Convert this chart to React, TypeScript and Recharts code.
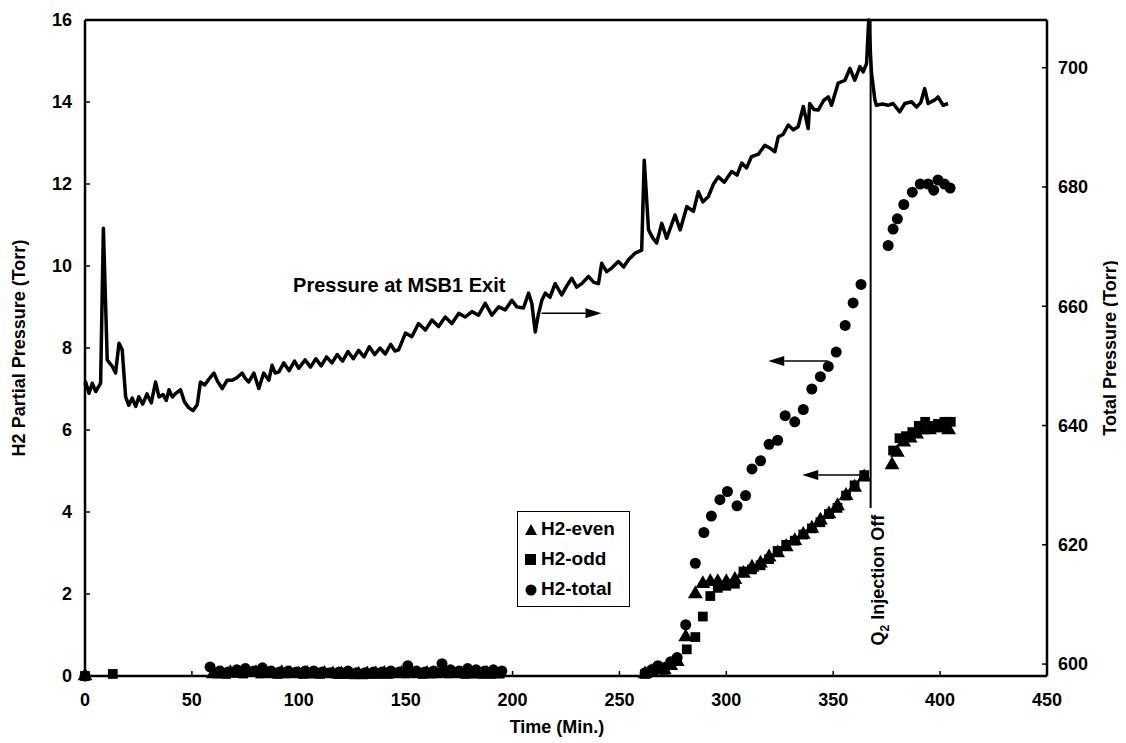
import React from "react";
import {
  ComposedChart,
  Line,
  Scatter,
  XAxis,
  YAxis,
  ZAxis,
  ReferenceLine,
  ReferenceDot,
} from "recharts";

const FONT = "'Liberation Sans', Arial, sans-serif";

const TIME_TICKS = [0, 50, 100, 150, 200, 250, 300, 350, 400, 450];
const H2_TICKS = [0, 2, 4, 6, 8, 10, 12, 14, 16];
const TOTAL_TICKS = [600, 620, 640, 660, 680, 700];

// [time (min), total pressure (Torr)] - right axis
const msb1Pressure: [number, number][] = [
  [0, 646.8], [0.3, 647.3], [1.9, 645.4], [3.4, 647.1], [5, 645.7], [7.3, 647.1],
  [8.6, 673.1], [10.4, 651.0], [12.8, 649.9], [14.3, 648.8], [15.9, 653.8], [17.4, 652.7],
  [19, 644.8], [20.5, 643.4], [22.1, 644.6], [23.7, 643.2], [25.2, 644.8], [27, 643.6],
  [29, 645.3], [31, 643.8], [33, 647.3], [34.6, 644.8], [36.5, 645.2], [38, 644.2],
  [39.3, 646.0], [40.8, 644.8], [42.5, 645.4], [44.7, 646.0], [46.5, 644.0], [48.5, 643.0],
  [50.5, 642.5], [52.5, 643.5], [54, 647.3], [56, 646.8], [58, 647.8], [60.3, 648.8],
  [62, 647.4], [64.2, 646.2], [66.5, 647.6], [68.8, 647.6], [71, 648.0], [73.5, 648.8],
  [75, 647.9], [76.6, 647.3], [79, 648.8], [81.3, 646.2], [83.6, 648.8], [86, 647.6],
  [87.5, 650.1], [89, 648.8], [90.7, 649.0], [93, 650.5], [95.5, 649.2], [98, 650.8],
  [100, 649.6], [103, 651.0], [105.5, 649.8], [108, 651.2], [110.5, 650.0], [113, 651.5],
  [115.5, 650.5], [118, 651.9], [120.5, 650.8], [123, 652.4], [125.5, 651.2], [128, 652.6],
  [130.5, 651.5], [133, 653.2], [135.5, 651.9], [138, 653.0], [140.5, 652.0], [143, 653.6],
  [145, 652.5], [146.7, 652.7], [149.9, 655.5], [152.9, 654.9], [156, 657.1], [159.2, 656.0],
  [162.3, 657.7], [165.4, 656.6], [168.5, 658.2], [171.6, 657.1], [174.8, 658.8], [177.9, 658.2],
  [181, 659.1], [184.1, 658.5], [187.2, 660.5], [190.3, 658.5], [193.5, 659.9], [196.6, 659.4],
  [199.7, 661.0], [202, 659.9], [205.1, 659.7], [207.5, 662.2], [209, 660.5], [210.6, 655.7],
  [212, 658.5], [213.7, 661.0], [215.3, 662.2], [217.5, 661.5], [219.9, 663.8], [223, 661.9],
  [225.5, 663.5], [227.7, 664.7], [230, 663.2], [232.4, 663.8], [235.5, 665.0], [238, 664.0],
  [240.2, 663.8], [241.7, 667.2], [244, 665.8], [246.4, 666.4], [249.5, 667.5], [252, 666.6],
  [254.2, 667.8], [257.3, 668.9], [260.4, 669.4], [261.6, 684.5], [263.6, 672.8], [265.5, 671.5],
  [267.4, 670.6], [269.8, 673.9], [272.1, 671.4], [276, 675.3], [278.4, 672.8], [281.5, 676.7],
  [284.6, 675.9], [286.9, 679.2], [289, 677.5], [291.6, 678.4], [294, 680.5], [296.3, 681.7],
  [299, 680.8], [302.5, 682.6], [305, 682.0], [307.2, 684.0], [309.5, 683.2], [311.8, 685.1],
  [315, 685.5], [318, 687.0], [320.5, 686.5], [322.7, 685.9], [324.3, 688.4], [326.5, 688.8],
  [329, 690.4], [331.3, 689.6], [333.6, 690.1], [336, 693.5], [338.3, 689.8], [339, 694.0],
  [341, 693.0], [343, 692.9], [345.5, 694.5], [347.7, 695.1], [349.2, 693.7], [352.3, 697.4],
  [355.5, 697.9], [357.8, 699.9], [360.1, 697.9], [362.5, 700.2], [364, 699.3], [365.6, 700.7],
  [366.6, 708], [367.9, 699.1], [369.5, 694.6], [370.2, 693.7], [373, 693.9], [375.7, 693.7],
  [378, 694.0], [381.1, 692.6], [383.5, 694.0], [386.6, 694.3], [389, 693.4], [391, 694.2],
  [392.8, 696.5], [394.4, 694.0], [397.5, 694.6], [399, 695.1], [401.4, 693.7], [403.7, 694.0],
];

// [time (min), H2 partial pressure (Torr)] - left axis
const h2Even: [number, number][] = [
  [0, 0], [60, 0.05], [64, 0.06], [68, 0.08], [72, 0.06], [76, 0.1], [80, 0.08], [84, 0.06],
  [88, 0.05], [92, 0.08], [96, 0.06], [100, 0.05], [104, 0.06], [108, 0.05], [112, 0.06],
  [116, 0.05], [120, 0.04], [124, 0.05], [128, 0.04], [132, 0.05], [136, 0.05], [140, 0.06],
  [144, 0.05], [148, 0.06], [152, 0.08], [156, 0.05], [160, 0.06], [164, 0.05], [168, 0.08],
  [172, 0.06], [176, 0.05], [180, 0.06], [184, 0.05], [188, 0.06], [192, 0.05],
  [262, 0.05], [265, 0.1], [268, 0.15], [271, 0.15], [274, 0.25], [277, 0.35], [281, 0.95],
  [285.5, 2.0], [289, 2.25], [292.5, 2.3], [296, 2.3], [300, 2.3], [304, 2.35], [308, 2.5],
  [312, 2.65], [316, 2.75], [320, 2.9], [324, 3.0], [328, 3.15], [332, 3.3], [336, 3.45],
  [340, 3.6], [344, 3.8], [348, 3.95], [352, 4.15], [356, 4.4], [360, 4.6], [364.5, 4.85],
  [377.5, 5.15], [380, 5.45], [383, 5.7], [386, 5.8], [389, 5.9], [392, 6.0], [395, 6.0],
  [398, 6.05], [401, 6.05], [404, 6.0],
];

const h2Odd: [number, number][] = [
  [0, 0], [13, 0.05], [62, 0.06], [66, 0.05], [70, 0.08], [74, 0.06], [78, 0.1], [82, 0.06],
  [86, 0.08], [90, 0.05], [94, 0.06], [98, 0.08], [102, 0.05], [106, 0.06], [110, 0.05],
  [114, 0.08], [118, 0.05], [122, 0.05], [126, 0.04], [130, 0.04], [134, 0.05], [138, 0.05],
  [142, 0.05], [146, 0.08], [150, 0.06], [154, 0.08], [158, 0.05], [162, 0.06], [166, 0.08],
  [170, 0.06], [174, 0.08], [178, 0.05], [182, 0.06], [186, 0.05], [190, 0.05], [194, 0.06],
  [262, 0.05], [265, 0.1], [268, 0.2], [271, 0.15], [274, 0.3], [277, 0.4], [281.5, 0.65],
  [285.5, 0.95], [289, 1.45], [292.5, 1.95], [296, 2.15], [300, 2.2], [304, 2.25], [308, 2.55],
  [312, 2.6], [316, 2.7], [320, 2.85], [324, 3.05], [328, 3.2], [332, 3.3], [336, 3.45],
  [340, 3.6], [344, 3.75], [348, 3.95], [352, 4.1], [356, 4.4], [360, 4.65], [364.5, 4.9],
  [378, 5.5], [381, 5.8], [384, 5.85], [387, 5.95], [390, 6.1], [393, 6.2], [396, 6.1],
  [399, 6.15], [402, 6.2], [405, 6.2],
];

const h2Total: [number, number][] = [
  [0, 0], [58.5, 0.22], [63, 0.12], [67, 0.1], [71, 0.15], [75, 0.18], [79, 0.12], [83, 0.2],
  [87, 0.12], [91, 0.1], [95, 0.12], [99, 0.1], [103, 0.12], [107, 0.12], [111, 0.1],
  [115, 0.08], [119, 0.1], [123, 0.12], [127, 0.08], [131, 0.08], [135, 0.1], [139, 0.1],
  [143, 0.12], [147, 0.1], [151, 0.25], [155, 0.12], [159, 0.1], [163, 0.12], [167, 0.3],
  [171, 0.15], [175, 0.12], [179, 0.18], [183, 0.15], [187, 0.12], [191, 0.15], [195, 0.12],
  [262, 0.08], [265, 0.15], [268, 0.25], [271, 0.2], [274, 0.35], [277, 0.45], [281, 1.25],
  [285.5, 2.75], [289.5, 3.5], [293, 3.9], [297, 4.3], [300.5, 4.5], [305, 4.15], [309, 4.4],
  [312, 5.05], [316, 5.25], [320, 5.65], [324, 5.75], [327.5, 6.35], [332, 6.2], [336, 6.5],
  [340, 7.0], [344, 7.3], [347.7, 7.55], [351.4, 7.9], [355.6, 8.55], [359.3, 9.1], [363, 9.55],
  [375.7, 10.5], [378, 10.9], [380, 11.15], [383, 11.5], [387, 11.8], [390.7, 12.0],
  [394.4, 12.0], [397, 11.85], [399, 12.1], [402, 12.0], [404.7, 11.9],
];

const lineData = msb1Pressure.map(([t, p]) => ({ t, p }));
const toPoints = (arr: [number, number][]) => arr.map(([t, v]) => ({ t, v }));

const tickStyle = { fill: "#000", fontSize: 18, fontWeight: 700, fontFamily: FONT };
const axisLine = { stroke: "#000", strokeWidth: 2.5 };

// line with a filled head at (x2, y2)
const arrowShape = (props: any) => {
  const { x1, y1, x2, y2 } = props;
  const dir = Math.sign(x2 - x1) || 1;
  const len = 16;
  const half = 5;
  return (
    <g>
      <line x1={x1} y1={y1} x2={x2 - dir * len} y2={y2} stroke="#000" strokeWidth={1.5} />
      <polygon
        points={`${x2},${y2} ${x2 - dir * len},${y2 - half} ${x2 - dir * len},${y2 + half}`}
        fill="#000"
      />
    </g>
  );
};

const InjectionLabel = (props: any) => {
  const { viewBox } = props;
  const cx = viewBox.x + viewBox.width / 2;
  const cy = viewBox.y + viewBox.height / 2;
  return (
    <text
      x={cx}
      y={cy}
      transform={`rotate(-90 ${cx} ${cy})`}
      textAnchor="middle"
      dominantBaseline="central"
      fill="#000"
      fontSize={18}
      fontWeight={700}
      fontFamily={FONT}
    >
      Q<tspan baselineShift="sub" fontSize={12}>2</tspan> Injection Off
    </text>
  );
};

function LegendBox() {
  const row = { display: "flex", alignItems: "center", height: 30 } as const;
  return (
    <div
      style={{
        position: "absolute",
        left: 509,
        top: 503,
        width: 105,
        padding: "2px 0 2px 6px",
        border: "1.5px solid #000",
        background: "#fff",
        fontFamily: FONT,
        fontWeight: 700,
        fontSize: 19,
        lineHeight: "30px",
      }}
    >
      <div style={row}>
        <svg width={14} height={14}>
          <polygon points="7,2 13,13 1,13" fill="#000" />
        </svg>
        <span style={{ marginLeft: 3 }}>H2-even</span>
      </div>
      <div style={row}>
        <svg width={14} height={14}>
          <rect x={1} y={2} width={11} height={11} fill="#000" />
        </svg>
        <span style={{ marginLeft: 3 }}>H2-odd</span>
      </div>
      <div style={row}>
        <svg width={14} height={14}>
          <circle cx={7} cy={8} r={5.5} fill="#000" />
        </svg>
        <span style={{ marginLeft: 3 }}>H2-total</span>
      </div>
    </div>
  );
}

export default function App() {
  return (
    <div style={{ position: "relative", width: 1116, height: 733, background: "#fff" }}>
      <ComposedChart width={1116} height={733} margin={{ top: 12, right: 0, bottom: 0, left: 0 }}>
        <XAxis
          type="number"
          dataKey="t"
          domain={[0, 450]}
          ticks={TIME_TICKS}
          tick={tickStyle}
          tickSize={-5}
          tickMargin={22}
          axisLine={axisLine}
          tickLine={{ stroke: "#000", strokeWidth: 1.5 }}
          height={65}
          label={{
            value: "Time (Min.)",
            position: "center",
            dx: -9,
            dy: 18,
            fill: "#000",
            fontSize: 18,
            fontWeight: 700,
            fontFamily: FONT,
          }}
        />
        <YAxis
          yAxisId="left"
          dataKey="v"
          domain={[0, 16]}
          ticks={H2_TICKS}
          tick={tickStyle}
          tickSize={-5}
          tickMargin={18}
          axisLine={axisLine}
          tickLine={{ stroke: "#000", strokeWidth: 1.5 }}
          width={77}
          label={{
            value: "H2 Partial Pressure (Torr)",
            angle: -90,
            position: "center",
            dx: -28,
            fill: "#000",
            fontSize: 18,
            fontWeight: 700,
            fontFamily: FONT,
          }}
        />
        <YAxis
          yAxisId="right"
          orientation="right"
          domain={[598, 708]}
          ticks={TOTAL_TICKS}
          tick={tickStyle}
          tickSize={-5}
          tickMargin={16}
          axisLine={axisLine}
          tickLine={{ stroke: "#000", strokeWidth: 1.5 }}
          width={77}
          label={{
            value: "Total Pressure (Torr)",
            angle: -90,
            position: "center",
            dx: 24,
            fill: "#000",
            fontSize: 18,
            fontWeight: 700,
            fontFamily: FONT,
          }}
        />
        <ZAxis range={[95, 95]} />

        {/* top frame */}
        <ReferenceLine yAxisId="left" y={16} stroke="#000" strokeWidth={2.5} />

        <Line
          yAxisId="right"
          data={lineData}
          dataKey="p"
          type="linear"
          stroke="#000"
          strokeWidth={3.5}
          strokeLinejoin="round"
          dot={false}
          isAnimationActive={false}
        />

        <Scatter yAxisId="left" data={toPoints(h2Total)} shape="circle" fill="#000" isAnimationActive={false} />
        <Scatter yAxisId="left" data={toPoints(h2Odd)} shape="square" fill="#000" isAnimationActive={false} />
        <Scatter yAxisId="left" data={toPoints(h2Even)} shape="triangle" fill="#000" isAnimationActive={false} />

        {/* Q2 injection off marker */}
        <ReferenceLine
          yAxisId="left"
          segment={[{ x: 367.5, y: 16 }, { x: 367.5, y: 4.1 }]}
          stroke="#000"
          strokeWidth={2}
        />
        <ReferenceDot yAxisId="left" x={371} y={2.34} r={0} fill="none" stroke="none" label={<InjectionLabel />} />

        {/* annotation arrows */}
        <ReferenceLine yAxisId="left" segment={[{ x: 213.6, y: 8.85 }, { x: 241.6, y: 8.85 }]} shape={arrowShape} />
        <ReferenceLine yAxisId="left" segment={[{ x: 347.7, y: 7.68 }, { x: 319.6, y: 7.68 }]} shape={arrowShape} />
        <ReferenceLine yAxisId="left" segment={[{ x: 365, y: 4.9 }, { x: 335.5, y: 4.9 }]} shape={arrowShape} />

        <ReferenceDot
          yAxisId="left"
          x={147}
          y={9.54}
          r={0}
          fill="none"
          stroke="none"
          label={{
            value: "Pressure at MSB1 Exit",
            position: "center",
            fill: "#000",
            fontSize: 20,
            fontWeight: 700,
            fontFamily: FONT,
          }}
        />
      </ComposedChart>
      <LegendBox />
    </div>
  );
}
